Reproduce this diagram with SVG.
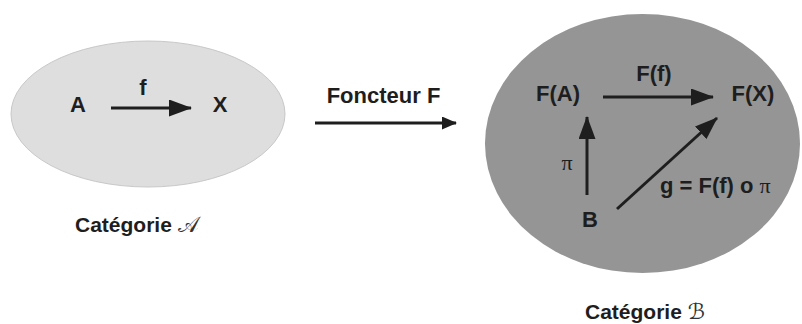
<svg xmlns="http://www.w3.org/2000/svg" width="802" height="324" viewBox="0 0 802 324">
<style>
.t{font-family:"Liberation Sans",Arial,sans-serif;font-weight:bold;font-size:22px;fill:#1e1e1e}
.c{font-size:21px}
.p{font-family:"Liberation Serif","DejaVu Serif",serif;font-weight:normal;font-size:22px;fill:#1e1e1e}
.s{font-family:"DejaVu Serif","DejaVu Sans",serif;font-weight:normal;font-size:22px;fill:#333}
.a{stroke:#1e1e1e;stroke-width:3;fill:none}
</style>
<defs>
<marker id="h" markerUnits="userSpaceOnUse" markerWidth="24" markerHeight="18" refX="22" refY="8.5" orient="auto">
<path d="M0,0 L23,8.5 L0,17 z" fill="#1e1e1e"/>
</marker>
<marker id="hs" markerUnits="userSpaceOnUse" markerWidth="16" markerHeight="14" refX="14" refY="6.5" orient="auto">
<path d="M0,0 L15,6.5 L0,13 z" fill="#1e1e1e"/>
</marker>
</defs>
<g id="catA">
<ellipse cx="148" cy="114" rx="137" ry="73" fill="#dedede" stroke="#c8c8c8" stroke-width="1"/>
<text class="t c" x="75" y="232">Catégorie <tspan class="s">𝒜</tspan></text>
</g>
<g id="catB">
<ellipse cx="642.5" cy="143.5" rx="157.5" ry="129.5" fill="#959595"/>
<text class="t c" x="585" y="319">Catégorie <tspan class="s">ℬ</tspan></text>
</g>
<g id="nodeA"><text class="t" x="78" y="112" text-anchor="middle">A</text></g>
<g id="nodeX"><text class="t" x="220" y="112" text-anchor="middle">X</text></g>
<g id="nodeFA"><text class="t" x="558" y="101" text-anchor="middle">F(A)</text></g>
<g id="nodeFX"><text class="t" x="753" y="101" text-anchor="middle">F(X)</text></g>
<g id="nodeB"><text class="t" x="590" y="227" text-anchor="middle">B</text></g>
<g id="connectors">
<line class="a" x1="111" y1="108" x2="191" y2="108" marker-end="url(#h)"/>
<line class="a" stroke-width="2" x1="315" y1="123" x2="456" y2="123" marker-end="url(#hs)"/>
<line class="a" x1="603" y1="97" x2="713" y2="97" marker-end="url(#h)"/>
<line class="a" x1="587" y1="195" x2="587" y2="117" marker-end="url(#h)"/>
<line class="a" x1="617" y1="209" x2="717" y2="118" marker-end="url(#h)"/>
</g>
<g id="labels">
<text class="t" x="143" y="95" text-anchor="middle">f</text>
<text class="t" x="383.5" y="103" text-anchor="middle">Foncteur F</text>
<text class="t" x="654" y="81" text-anchor="middle">F(f)</text>
<text class="p" x="567" y="170" text-anchor="middle">π</text>
<text class="t" x="660" y="193">g = F(f) o <tspan class="p">π</tspan></text>
</g>
</svg>
